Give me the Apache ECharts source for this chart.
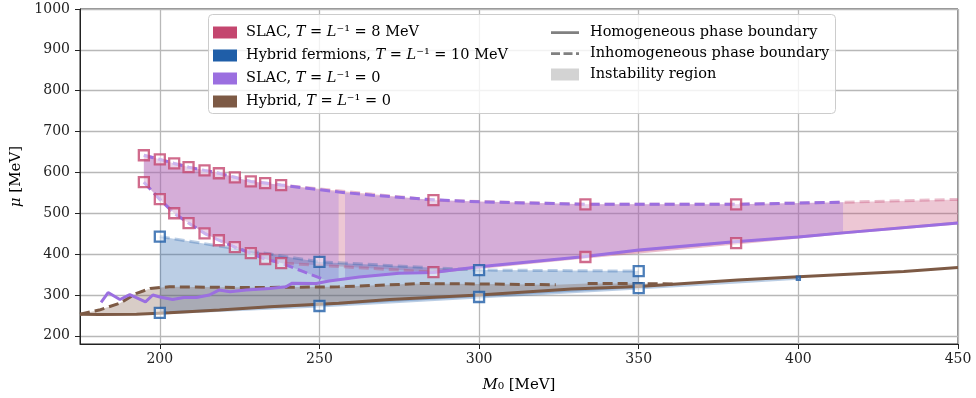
<!DOCTYPE html>
<html>
<head>
<meta charset="UTF-8">
<title>Phase diagram</title>
<script src="https://cdn.jsdelivr.net/npm/echarts@6/dist/echarts.min.js"></script>
</head>
<body style="margin:0;background:#fff">
<div id="main" style="width:976px;height:398px;"></div>
<script>
// tick labels
var xTicks = [200, 250, 300, 350, 400, 450];
var yTicks = [200, 300, 400, 500, 600, 700, 800, 900, 1000];

// SLAC, T = 1/L = 8 MeV (markers + boundaries)
var slac8Top = [[195, 642], [200, 632], [204.5, 622], [209, 613], [214, 605], [218.5, 598], [223.5, 588],
    [228.5, 578], [233, 574], [238, 569], [285.7, 532], [333.3, 522], [380.5, 522]];
var slac8TopTail = [[414, 527], [450, 534]];
var slac8Bottom = [[195, 576], [200, 534.5], [204.5, 500], [209, 476], [214, 451], [218.5, 434], [223.5, 417],
    [228.5, 402.5], [233, 388], [238, 378], [285.7, 356], [333.3, 393], [380.5, 427]];
var slac8BottomTail = [[414, 452], [450, 476]];

// Hybrid fermions, T = 1/L = 10 MeV
var hyb10Top = [[200, 443], [250, 381], [300, 361], [350, 358.5]];
var hyb10Bottom = [[200, 256], [250, 273], [300, 295], [350, 317], [400, 341]];

// SLAC, T = 1/L = 0
var slac0Upper = [[195, 642], [200, 632], [204.5, 622], [209, 613], [214, 605], [218.5, 598], [223.5, 588],
    [228.5, 578], [233, 574], [238, 569], [256, 552], [266.5, 544], [285.7, 533], [300, 528], [333.3, 522],
    [356, 522], [381, 522], [400, 525], [414, 527]];
var slac0LowerDash = [[195, 576], [200, 534], [204.5, 500], [209, 476], [214, 451], [218.5, 434], [223.5, 417],
    [228.5, 402], [233, 388], [238, 378], [245, 357], [252, 336]];
var slac0Homog = [[181.6, 282], [183.8, 306], [187.5, 289], [190.6, 301], [195.5, 283], [197.8, 300], [200, 295],
    [204, 289], [207.5, 294], [211.5, 294], [215.5, 300], [218.5, 312], [222, 308], [227, 312], [234.5, 316],
    [239.5, 320], [241.5, 329], [249, 328], [253, 334], [262.5, 344], [275, 353], [285.7, 355], [300, 369],
    [333.3, 394], [350, 410], [380, 430], [400, 442], [414, 452], [450, 476]];

// Hybrid, T = 1/L = 0
var hyb0Homog = [[175, 253], [181, 252], [192.7, 253], [203, 256.5], [218.7, 263], [234.4, 271], [256, 279.5],
    [272, 289], [300, 300], [329, 314.5], [350, 321], [381, 336.5], [400, 344.5], [433, 357.7], [450, 367]];
var hyb0DashA = [[175, 253], [181, 263], [187.5, 280], [192.7, 304], [197, 316], [203, 320], [228, 318],
    [256, 320], [282, 328], [300, 327], [324, 325]];
var hyb0DashB = [[334, 328], [350, 328], [362, 327]];

var C_SLAC8 = '#c4466f', C_HYB10 = '#1f5ea8', C_SLAC0 = '#9b6fe0', C_HYB0 = '#7d5a45';
var DASH = [10, 5];
var FONT = 'DejaVu Serif';
// legend glyphs (tiny corner dots keep the 28x12 box)
var ICON_SOLID = 'path://M0,0h0.01v0.01h-0.01zM0,4.8h28v2.6h-28zM27.99,11.99h0.01v0.01h-0.01z';
var ICON_DASH = 'path://M0,0h0.01v0.01h-0.01zM0,4.8h9v2.6h-9zM12.5,4.8h9v2.6h-9zM25,4.8h3v2.6h-3zM27.99,11.99h0.01v0.01h-0.01z';

function interpAt(line, x) {
    for (var i = 0; i < line.length - 1; i++) {
        var a = line[i], b = line[i + 1];
        if (x >= a[0] && x <= b[0]) {
            var t = (x - a[0]) / (b[0] - a[0]);
            return [x, a[1] + t * (b[1] - a[1])];
        }
    }
    return line[line.length - 1];
}
function clipLine(line, x0, x1) {
    var out = [interpAt(line, x0)];
    line.forEach(function (p) { if (p[0] > x0 && p[0] < x1) out.push(p); });
    out.push(interpAt(line, x1));
    return out;
}
// filled region between two boundaries, drawn with the axis scales
function band(name, upper, lower, ranges, fill, z) {
    return {
        type: 'custom', name: name, z: z, silent: true, clip: true, data: [[300, 500]],
        renderItem: function (params, api) {
            return {
                type: 'group',
                children: ranges.map(function (r) {
                    var pts = clipLine(upper, r[0], r[1]).concat(clipLine(lower, r[0], r[1]).reverse());
                    return { type: 'polygon', shape: { points: pts.map(function (p) { return api.coord(p); }) },
                        style: { fill: fill } };
                })
            };
        }
    };
}
function line(name, data, color, dashed, z, width) {
    return {
        type: 'line', name: name, data: data, z: z, symbol: 'none', silent: true,
        itemStyle: { color: color },
        lineStyle: { color: color, width: width || 3, type: dashed ? DASH : 'solid' }
    };
}
function markers(name, data, color) {
    return {
        type: 'scatter', name: name, data: data, z: 20, symbol: 'rect', symbolSize: 10,
        itemStyle: { color: 'rgba(255,255,255,0.6)', borderColor: color, borderWidth: 2.3 }
    };
}

var slac0Lower = slac0LowerDash.concat(slac0Homog.filter(function (p) { return p[0] > 252; }));

var legendText = {
    slac8: 'SLAC, {i|T} = {i|L}⁻¹ = 8 MeV',
    hyb10: 'Hybrid fermions, {i|T} = {i|L}⁻¹ = 10 MeV',
    slac0: 'SLAC, {i|T} = {i|L}⁻¹ = 0',
    hyb0: 'Hybrid, {i|T} = {i|L}⁻¹ = 0'
};
function legendStyle(padLeft) {
    return {
        fontFamily: FONT, fontSize: 14.5, color: '#000', padding: [0, 0, 0, padLeft],
        rich: { i: { fontFamily: FONT, fontSize: 14.5, fontStyle: 'italic', color: '#000' } }
    };
}
var plainLabel = function (v) { return String(v); };

var myChart = echarts.init(document.getElementById('main'));
var option = {
    animation: false,
    grid: { left: 80, right: 18, top: 9, bottom: 54, show: true, borderColor: '#222', borderWidth: 1 },
    graphic: [{
        type: 'rect', z: 50, left: 208, top: 14, silent: true,
        shape: { width: 627, height: 99, r: 4 },
        style: { fill: 'rgba(255,255,255,0.82)', stroke: '#cccccc', lineWidth: 1 }
    }],
    legend: [{
        orient: 'vertical', left: 208, top: 20, z: 60, itemWidth: 24, itemHeight: 12, itemGap: 8,
        selectedMode: false, textStyle: legendStyle(4),
        formatter: function (n) { return legendText[n]; },
        data: [
            { name: 'slac8', icon: 'rect', itemStyle: { color: C_SLAC8, borderWidth: 0 } },
            { name: 'hyb10', icon: 'rect', itemStyle: { color: C_HYB10, borderWidth: 0 } },
            { name: 'slac0', icon: 'rect', itemStyle: { color: C_SLAC0, borderWidth: 0 } },
            { name: 'hyb0', icon: 'rect', itemStyle: { color: C_HYB0, borderWidth: 0 } }
        ]
    }, {
        orient: 'vertical', left: 546, top: 20, z: 60, itemWidth: 28, itemHeight: 12, itemGap: 6,
        selectedMode: false, textStyle: legendStyle(6),
        data: [
            { name: 'Homogeneous phase boundary', icon: ICON_SOLID,
                itemStyle: { color: '#808080', borderWidth: 0 }, lineStyle: { width: 0 } },
            { name: 'Inhomogeneous phase boundary', icon: ICON_DASH,
                itemStyle: { color: '#808080', borderWidth: 0 }, lineStyle: { width: 0 } },
            { name: 'Instability region', icon: 'rect', itemStyle: { color: '#d3d3d3', borderWidth: 0 } }
        ]
    }],
    xAxis: {
        type: 'value', min: 175, max: 450,
        name: '{i|M}₀ [MeV]', nameLocation: 'middle', nameGap: 34,
        nameTextStyle: { fontFamily: FONT, fontSize: 15, color: '#000',
            rich: { i: { fontFamily: FONT, fontSize: 15, fontStyle: 'italic', color: '#000' } } },
        axisLine: { onZero: false, lineStyle: { color: '#222', width: 1 } },
        axisTick: { customValues: xTicks, length: 5, lineStyle: { color: '#222' } },
        axisLabel: { customValues: xTicks, formatter: plainLabel, fontFamily: FONT, fontSize: 14, color: '#222', margin: 8 },
        splitLine: { show: true, lineStyle: { color: '#b8b8b8', width: 1.3 } }
    },
    yAxis: {
        type: 'value', min: 180, max: 1000,
        name: '{i|μ} [MeV]', nameLocation: 'middle', nameGap: 52, nameRotate: 90,
        nameTextStyle: { fontFamily: FONT, fontSize: 15, color: '#000',
            rich: { i: { fontFamily: FONT, fontSize: 15, fontStyle: 'italic', color: '#000' } } },
        axisLine: { show: true, onZero: false, lineStyle: { color: '#222', width: 1 } },
        axisTick: { show: true, customValues: yTicks, length: 5, lineStyle: { color: '#222' } },
        axisLabel: { customValues: yTicks, formatter: plainLabel, fontFamily: FONT, fontSize: 14, color: '#222', margin: 10 },
        splitLine: { show: true, lineStyle: { color: '#b8b8b8', width: 1.3 } }
    },
    series: [
        band('slac8', slac8Top.concat(slac8TopTail), slac8Bottom.concat(slac8BottomTail), [[195, 450]],
            'rgba(196,70,111,0.3)', 1),
        band('slac0', slac0Upper, slac0Lower, [[195, 256], [258, 414]], 'rgba(155,111,224,0.3)', 2),
        band('hyb10', hyb10Top, hyb10Bottom, [[200, 350]], 'rgba(31,94,168,0.3)', 3),
        band('hyb0', hyb0DashA.concat(hyb0DashB), hyb0Homog, [[175, 362]], 'rgba(125,90,69,0.3)', 4),

        line('slac8', slac8Top.concat(slac8TopTail), 'rgba(196,70,111,0.35)', true, 5),
        line('slac8', slac8Bottom.slice(0, 11), 'rgba(196,70,111,0.35)', true, 5),
        line('slac8', slac8Bottom.slice(10).concat(slac8BottomTail), 'rgba(196,70,111,0.35)', false, 5),
        line('hyb10', hyb10Top, 'rgba(31,94,168,0.3)', true, 6),
        line('hyb10', hyb10Bottom, 'rgba(31,94,168,0.3)', false, 6),
        line('hyb0', hyb0Homog, C_HYB0, false, 7),
        line('hyb0', hyb0DashA, C_HYB0, true, 7),
        line('hyb0', hyb0DashB, C_HYB0, true, 7),
        line('slac0', slac0Upper, C_SLAC0, true, 8),
        line('slac0', slac0LowerDash, C_SLAC0, true, 8),
        line('slac0', slac0Homog, C_SLAC0, false, 8),

        markers('slac8', slac8Top.concat(slac8Bottom), C_SLAC8),
        markers('hyb10', hyb10Top.concat(hyb10Bottom.slice(0, 4)).concat([{ value: hyb10Bottom[4], symbolSize: 3 }]), C_HYB10),

        line('Homogeneous phase boundary', [], '#808080', false, 0, 2.5),
        line('Inhomogeneous phase boundary', [], '#808080', true, 0, 2.5),
        line('Instability region', [], '#d3d3d3', false, 0)
    ]
};
myChart.setOption(option);
</script>
</body>
</html>
